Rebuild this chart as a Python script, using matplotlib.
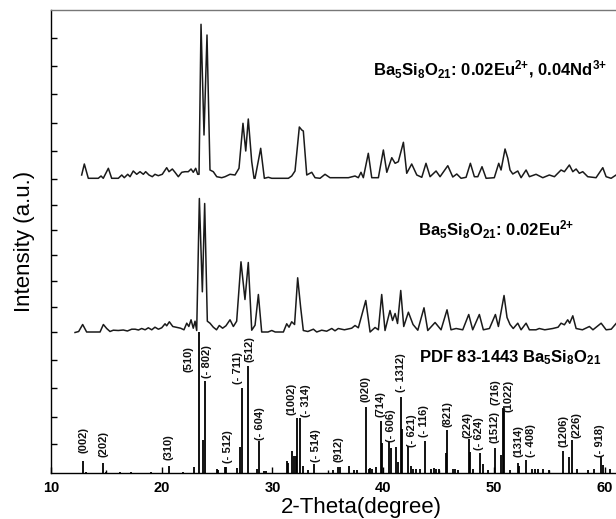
import matplotlib
matplotlib.use("Agg")
import matplotlib.pyplot as plt
import numpy as np

plt.rcParams['font.family'] = ['Liberation Sans', 'DejaVu Sans']
plt.rcParams['mathtext.fontset'] = 'custom'
plt.rcParams['mathtext.rm'] = 'Liberation Sans:bold'
plt.rcParams['mathtext.bf'] = 'Liberation Sans:bold'
plt.rcParams['mathtext.it'] = 'Liberation Sans:bold'

# ---------------- data ----------------
# Ba5Si8O21: 0.02Eu2+, 0.04Nd3+ (top pattern)
top_2theta = [12.77, 13.01, 13.37, 14.27, 14.52, 14.72, 15.18, 15.48, 16.08, 16.39, 16.62, 16.93,
              17.14, 17.43, 17.74, 18.04, 18.34, 18.55, 18.85, 19.15, 19.39, 19.69, 20.05, 20.45,
              20.66, 20.96, 21.20, 21.50, 21.81, 22.10, 22.40, 22.65, 22.85, 23.07, 23.25, 23.37,
              23.55, 23.82, 24.09, 24.36, 24.66, 24.97, 25.42, 25.72, 26.17, 26.62, 26.98, 27.34,
              27.59, 27.82, 28.13, 28.34, 28.43, 28.94, 29.27, 29.63, 29.94, 30.23, 31.44, 31.74,
              32.04, 32.43, 32.65, 32.79, 33.10, 33.55, 33.85, 34.30, 34.75, 35.20, 35.95, 36.86,
              37.46, 37.76, 38.00, 38.21, 38.66, 38.97, 39.57, 40.02, 40.33, 40.78, 41.08, 41.37,
              41.83, 42.13, 42.58, 43.04, 43.49, 43.87, 44.24, 44.78, 45.14, 45.84, 46.29, 46.65,
              47.04, 47.49, 47.88, 48.24, 48.55, 48.93, 49.30, 50.04, 50.44, 50.65, 51.01, 51.26,
              51.46, 51.71, 52.16, 52.46, 52.91, 53.21, 53.81, 54.42, 55.01, 55.47, 56.07, 56.37,
              56.82, 57.13, 57.43, 57.72, 58.03, 58.48, 59.23, 59.84, 60.14, 60.59, 61.04]
top_int = [4, 15, 0.7, 0.7, 3, 0.7, 10.7, 0.7, 0.7, 4, 1.3, 4.7,
           2.3, 8, 4.7, 7.3, 4.7, 7.3, 4, 2.3, 4.7, 3.3, 4.7, 11.3,
           7.3, 10, 6.7, 2.3, 6.7, 7.3, 7.3, 10, 6.7, 10.7, 4.7, 4.7,
           154.7, 44, 144, 9, 7.3, 2.3, 1.3, 2.3, 4.7, 4, 10.7, 55.7,
           28, 60, 17.3, 0.7, 0.7, 30.7, 0.7, 1.7, 0.7, 0.7, 0.7, 3,
           8, 52, 49, 48, 4, 6.7, 1.3, 0.7, 4.7, 1.3, 1.3, 1.3,
           3, 1.3, 6.7, 1.3, 25.7, 1.3, 1.3, 29, 6.7, 21.3, 15.7, 17.3,
           36.7, 5.7, 15, 4, 1.7, 15.7, 2.3, 8, 2.3, 13.3, 2, 5,
           0.7, 1.7, 15.7, 2.3, 2.3, 12.3, 0.7, 1.3, 15.7, 9, 30, 20.7,
           9, 5, 8, 1.3, 9, 2.3, 4.7, 1.3, 4, 2.3, 9, 7.3,
           14, 7.3, 10, 5.7, 7.3, 2.3, 1.3, 11.3, 2.3, 0.7, 4]

# Ba5Si8O21: 0.02Eu2+ (middle pattern)
mid_2theta = [12.17, 12.5, 12.86, 13.22, 14.43, 14.73, 15.03, 15.33, 15.63, 16.08, 16.53, 16.9,
              17.29, 17.6, 17.9, 18.19, 18.5, 18.79, 19.1, 19.39, 19.7, 20.0, 20.30, 20.45,
              20.69, 21.0, 21.29, 21.7, 22.01, 22.26, 22.45, 22.65, 22.85, 23.01, 23.16, 23.40,
              23.67, 23.88, 24.12, 24.36, 24.66, 24.95, 25.20, 25.5, 25.8, 26.17, 26.47, 26.77,
              27.16, 27.52, 27.82, 28.13, 28.43, 28.73, 29.03, 29.6, 29.94, 30.25, 30.99, 31.29,
              31.5, 31.74, 32.0, 32.28, 32.55, 32.79, 33.2, 33.70, 34.0, 34.45, 34.9, 35.36,
              35.65, 35.95, 36.5, 37.16, 37.46, 37.76, 38.43, 38.82, 39.27, 39.57, 39.87, 40.17,
              40.62, 40.85, 41.08, 41.3, 41.59, 41.86, 42.28, 42.7, 43.13, 43.69, 44.03, 44.69,
              45.23, 45.77, 46.13, 46.59, 47.19, 47.73, 48.09, 48.69, 49.05, 49.6, 50.14, 50.41,
              50.92, 51.19, 51.46, 51.75, 52.16, 52.46, 52.91, 53.21, 53.81, 54.1, 54.6, 55.32,
              55.8, 56.07, 56.37, 56.67, 56.85, 57.13, 57.43, 58.0, 58.63, 58.95, 59.69, 60.14,
              60.6, 61.04]
mid_int = [0, 1, 8, 0.5, 0.5, 8, 4, 1, 2.3, 2, 2.5, 1.5,
           3.3, 3.3, 2.5, 4, 2.7, 4.7, 2.7, 5.3, 3.3, 4.7, 8.7, 6.7,
           10.7, 6, 5.3, 4.3, 2.7, 9.3, 6, 12.7, 4.3, 11.3, 2, 134,
           40.7, 129, 11.3, 9.3, 5.3, 2.7, 7, 4.3, 6.7, 12.7, 6, 11.3,
           70.7, 33, 70, 2.3, 7.3, 38, 0.5, 0.5, 2, 0.5, 0.5, 8.7,
           5.3, 10.7, 8, 54.7, 25, 2, 1, 3.3, 0.5, 2.3, 1.3, 4,
           1.7, 4, 2.7, 4.3, 7, 4.7, 32, 0.5, 5, 2.7, 38, 2,
           22, 12, 19, 9, 42, 6, 20.3, 8, 2.3, 24.7, 2, 10,
           2.7, 22.7, 2.7, 4, 2.7, 18, 2.7, 18, 2.7, 4, 18, 6,
           37, 15, 8, 4, 9.3, 2.7, 9.3, 2.7, 2.7, 4, 2.7, 4,
           5.3, 9.3, 7.7, 12.7, 9.3, 16.7, 4, 2.7, 6, 2.7, 9.3, 2.7,
           3.3, 9]

# PDF 83-1443 reference pattern (relative intensity, %)
ref_2theta = [12.86, 13.2, 14.73, 15.0, 16.2, 17.2, 19.0, 20.69, 21.9, 22.92, 23.40, 23.76,
              23.94, 25.02, 25.1, 25.75, 25.85, 26.77, 27.10, 27.25, 27.82, 28.58, 28.79, 29.2,
              29.4, 31.29, 31.44, 31.74, 31.95, 32.13, 32.25, 32.46, 32.79, 33.25, 33.76, 35.5,
              35.96, 36.1, 36.95, 37.4, 37.6, 38.43, 38.7, 38.85, 39.0, 39.35, 39.81, 39.93,
              40.56, 40.71, 41.17, 41.32, 41.62, 41.74, 42.28, 42.48, 42.7, 43.0, 43.3, 43.78,
              44.3, 44.55, 44.8, 45.0, 45.65, 45.74, 46.3, 46.5, 46.8, 47.76, 47.85, 48.1,
              48.75, 49.05, 49.5, 50.08, 50.62, 50.83, 50.95, 51.5, 52.16, 52.28, 52.91, 53.4,
              53.7, 54.0, 54.4, 55.0, 56.28, 56.82, 57.09, 57.5, 58.5, 59.0, 59.66, 59.84, 60.5]
ref_int = [8.7, 1, 7, 1, 0.8, 0.8, 1, 5, 1, 4.3, 100, 23.5,
           65, 3, 2, 4, 4, 3.5, 18.4, 60, 76, 3, 22.4, 1.5,
           1.5, 8.7, 7, 15.3, 11.8, 12, 39, 39, 4.7, 2, 6.6, 2,
           4.3, 4, 4.7, 2, 2, 46.6, 2.5, 3.5, 3, 4, 37, 21,
           21.8, 18, 18.5, 8, 54, 31.5, 19, 5, 2.5, 3, 2.5, 22.7,
           3, 3.5, 3, 3, 14.2, 30.3, 3, 3, 2, 24, 15, 3,
           14.4, 6.2, 2, 18, 12.5, 46.3, 45.7, 2, 7.3, 5, 9.5, 3,
           3, 2.5, 2.5, 2, 15.6, 11.3, 23.6, 3, 2, 3, 11.3, 6, 3]

# Miller-index labels
hkl_labels = ['(002)', '(202)', '(310)', '(510)', '(- 802)', '(- 512)', '(- 711)', '(512)',
              '(- 604)', '(1002)', '(- 314)', '(- 514)', '(912)', '(020)', '(714)', '(- 606)',
              '(- 1312)', '(- 621)', '(- 116)', '(821)', '(224)', '(- 624)', '(1512)', '(716)',
              '(1022)', '(1314)', '(- 408)', '(1206)', '(226)', '(- 918)']
hkl_x = [12.95, 14.76, 20.6, 22.4, 24.09, 26.0, 26.86, 27.91, 28.91, 31.68, 33.0, 33.94,
         35.99, 38.45, 39.72, 40.69, 41.59, 42.61, 43.67, 45.77, 47.6, 48.66, 50.05, 50.17,
         51.33, 52.2, 53.33, 56.25, 57.42, 59.62]
hkl_y = [20, 16, 13, 101, 95, 10, 89, 111, 33, 58, 56, 11,
         11, 71, 56, 31, 81, 26, 36, 46, 35, 23, 30, 68,
         61, 16, 16, 26, 35, 16]

# ---------------- layout ----------------
W, H = 616, 519
fig = plt.figure(figsize=(W / 100, H / 100), dpi=100)
ax = fig.add_axes([51 / W, 46 / H, 620 / W, 463 / H])

ref_scale = 1.41
mid_offset = 140.5
top_offset = 294

ax.vlines(ref_2theta, 0, np.array(ref_int) * ref_scale, color='black', lw=1.3)
ax.plot(mid_2theta, np.array(mid_int) + mid_offset, color='#1a1a1a', lw=1.1,
        solid_joinstyle='round')
ax.plot(top_2theta, np.array(top_int) + top_offset, color='#1a1a1a', lw=1.1,
        solid_joinstyle='round')

for t, x, y in zip(hkl_labels, hkl_x, hkl_y):
    ax.text(x, y, t, rotation=90, ha='center', va='bottom', fontsize=8.0,
            fontweight='bold', color='#111111')

ax.text(39.1, 403, r'Ba$_5$Si$_8$O$_{21}$: 0.02Eu$^{2{+}}$, 0.04Nd$^{3{+}}$',
        fontsize=12, fontweight='bold', va='center', ha='left')
ax.text(43.15, 243, r'Ba$_5$Si$_8$O$_{21}$: 0.02Eu$^{2{+}}$',
        fontsize=12, fontweight='bold', va='center', ha='left')
ax.text(43.24, 115, r'PDF 83-1443 Ba$_5$Si$_8$O$_{21}$',
        fontsize=12, fontweight='bold', va='center', ha='left')

ax.set_xlim(10, 66)
ax.set_ylim(0, 463)
ax.set_xticks([10, 20, 30, 40, 50, 60])
ax.set_xticks([15, 25, 35, 45, 55, 65], minor=True)
ax.set_yticks([29, 56, 85, 113, 141, 166, 192, 218, 243, 268, 294, 322, 350, 379, 407, 435])
ax.set_yticklabels([])
ax.tick_params(axis='x', which='major', direction='in', length=4, width=1,
               labelsize=10.5, pad=6)
ax.tick_params(axis='x', which='minor', direction='in', length=2.5, width=1)
ax.tick_params(axis='y', direction='in', length=4, width=1)
for lab in ax.get_xticklabels():
    lab.set_fontweight('bold')
for s in ax.spines.values():
    s.set_linewidth(1.0)
ax.spines['top'].set_color('#777777')

ax.set_xlabel('2-Theta(degree)', fontsize=16, labelpad=1)
ax.set_ylabel('Intensity (a.u.)', fontsize=16, labelpad=8)

fig.savefig('out.png', dpi=100)
